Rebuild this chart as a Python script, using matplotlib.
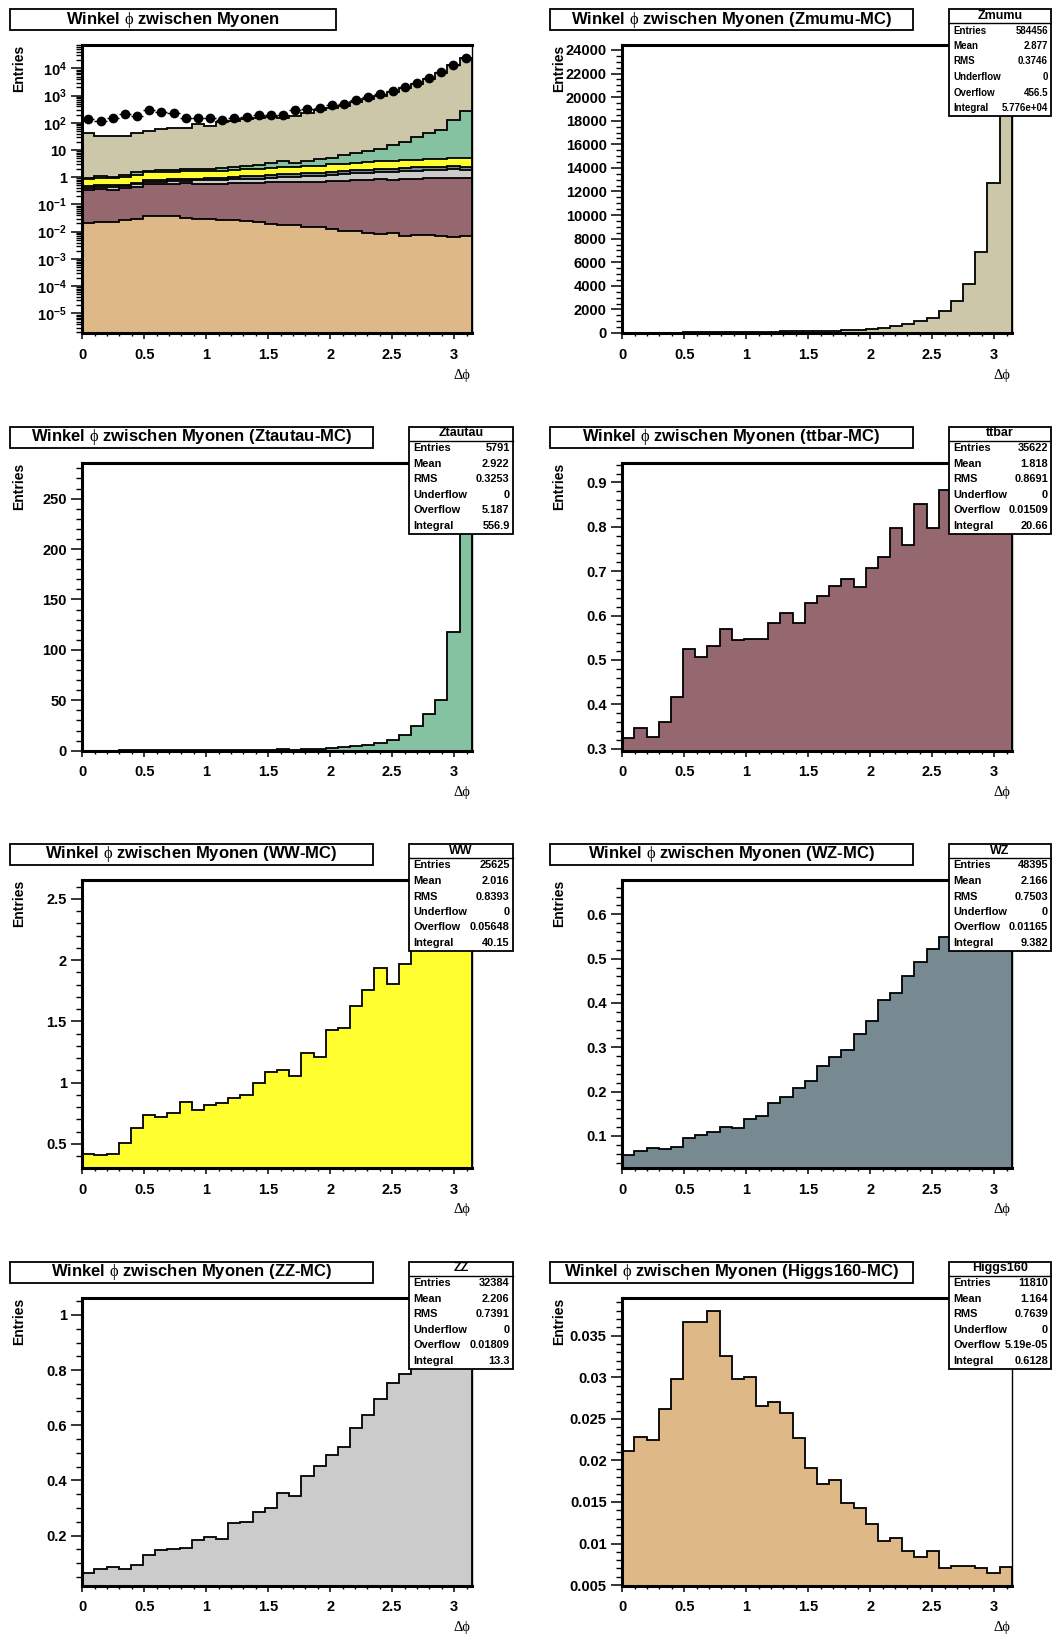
import numpy as np
import matplotlib
matplotlib.use("Agg")
import matplotlib.pyplot as plt
from matplotlib.patches import Rectangle
from matplotlib.lines import Line2D
from matplotlib.ticker import (MultipleLocator, AutoMinorLocator, FuncFormatter,
                               LogLocator, NullFormatter)

plt.rcParams['font.family'] = ['Liberation Sans', 'DejaVu Sans']
plt.rcParams['font.weight'] = 'bold'
plt.rcParams['mathtext.fontset'] = 'custom'
plt.rcParams['mathtext.rm'] = 'Liberation Sans:bold'
plt.rcParams['mathtext.bf'] = 'Liberation Sans:bold'
plt.rcParams['mathtext.sf'] = 'Liberation Serif:weight=normal'

# 32 bins in delta-phi from 0 to pi
NBINS = 32
EDGES = np.linspace(0, np.pi, NBINS + 1)

zmumu = [40, 31, 31, 31, 42, 49, 56, 64, 64, 86, 74, 104, 113, 130, 143, 155,
         150, 180, 220, 280, 340, 420, 590, 750, 980, 1300, 1850, 2720, 4150,
         6860, 12700, 23260]
ztautau = [0.08, 0.15, 0.10, 0.20, 0.25, 0.20, 0.30, 0.22, 0.30, 0.35, 0.28,
           0.40, 0.45, 0.70, 0.80, 1.0, 1.6, 0.9, 1.2, 2.0, 2.3, 3.3, 4.6, 5.3,
           7.2, 10.9, 15.5, 24.7, 36.2, 50.3, 117.8, 272.0]
ttbar = [0.325, 0.347, 0.326, 0.361, 0.417, 0.525, 0.506, 0.532, 0.570, 0.546,
         0.548, 0.548, 0.583, 0.605, 0.584, 0.628, 0.644, 0.667, 0.682, 0.665,
         0.707, 0.733, 0.797, 0.758, 0.851, 0.798, 0.883, 0.89, 0.915, 0.90,
         0.91, 0.905]
ww = [0.421, 0.410, 0.421, 0.511, 0.630, 0.734, 0.723, 0.753, 0.840, 0.775,
      0.815, 0.834, 0.872, 0.902, 0.995, 1.09, 1.105, 1.057, 1.24, 1.207, 1.43,
      1.444, 1.622, 1.753, 1.94, 1.804, 1.967, 2.15, 2.30, 2.40, 2.548, 2.45]
wz = [0.0572, 0.0655, 0.073, 0.0715, 0.0752, 0.0947, 0.1015, 0.109, 0.121,
      0.118, 0.1375, 0.144, 0.174, 0.188, 0.208, 0.224, 0.257, 0.279, 0.294,
      0.329, 0.359, 0.407, 0.422, 0.460, 0.493, 0.521, 0.550, 0.575, 0.60,
      0.62, 0.648, 0.606]
zz = [0.066, 0.078, 0.088, 0.079, 0.095, 0.131, 0.149, 0.152, 0.154, 0.186,
      0.196, 0.187, 0.247, 0.248, 0.284, 0.299, 0.356, 0.342, 0.416, 0.452,
      0.491, 0.522, 0.589, 0.637, 0.694, 0.755, 0.785, 0.84, 0.90, 0.95,
      1.015, 0.917]
higgs160 = [0.0211, 0.0228, 0.0225, 0.0262, 0.0298, 0.0366, 0.0367, 0.0380,
            0.0326, 0.0298, 0.0300, 0.0266, 0.0270, 0.0257, 0.0227, 0.0191,
            0.0172, 0.0177, 0.0149, 0.0143, 0.0124, 0.0103, 0.0107, 0.0091,
            0.0084, 0.0091, 0.0071, 0.0073, 0.0073, 0.0070, 0.0065, 0.0072]
data = [134, 118, 147, 205, 177, 296, 258, 236, 146, 155, 146, 130, 150, 158,
        188, 190, 188, 285, 320, 340, 440, 500, 680, 860, 1120, 1500, 2100,
        3000, 4500, 7300, 13000, 24000]

stat_labels = ["Entries", "Mean", "RMS", "Underflow", "Overflow", "Integral"]
stats = {
    "Zmumu":    ["584456", "2.877", "0.3746", "0", "456.5", "5.776e+04"],
    "Ztautau":  ["5791", "2.922", "0.3253", "0", "5.187", "556.9"],
    "ttbar":    ["35622", "1.818", "0.8691", "0", "0.01509", "20.66"],
    "WW":       ["25625", "2.016", "0.8393", "0", "0.05648", "40.15"],
    "WZ":       ["48395", "2.166", "0.7503", "0", "0.01165", "9.382"],
    "ZZ":       ["32384", "2.206", "0.7391", "0", "0.01809", "13.3"],
    "Higgs160": ["11810", "1.164", "0.7639", "0", "5.19e-05", "0.6128"],
}

colors = {"Zmumu": "#cdc7aa", "Ztautau": "#84c2a2", "ttbar": "#95686f",
          "WW": "#ffff30", "WZ": "#788a91", "ZZ": "#cbcbcb",
          "Higgs160": "#deb887"}
hists = {"Zmumu": zmumu, "Ztautau": ztautau, "ttbar": ttbar, "WW": ww,
         "WZ": wz, "ZZ": zz, "Higgs160": higgs160}

W, H = 1052, 1636
fig = plt.figure(figsize=(W / 100, H / 100), dpi=100)
fig.patch.set_facecolor("white")

def fx(x):
    return x / W

def fy(y):
    return 1 - y / H

PAD_X = [0, 540]
ROW_TOP = [45, 462.7, 880, 1297.7]
FRAME_L, FRAME_W, FRAME_H = 82.3, 389.4, 288
TITLE = r"Winkel $\mathsf{ϕ}$ zwischen Myonen"


def root_range(vals):
    lo, hi = min(vals), max(vals)
    d = hi - lo
    ymin = lo - 0.05 * d
    if ymin < 0:
        ymin = 0
    return ymin, hi + 0.05 * d


def fmt_lin(v, _):
    return f"{round(v, 6):g}"


def fmt_log(v, _):
    k = int(round(np.log10(v)))
    if k == 0:
        return "1"
    if k == 1:
        return "10"
    return r"$\mathbf{10^{%d}}$" % k


def make_axes(col, row):
    x0 = PAD_X[col] + FRAME_L
    top = ROW_TOP[row]
    ax = fig.add_axes([fx(x0), fy(top + FRAME_H), FRAME_W / W, FRAME_H / H])
    for s in ("top", "left", "bottom"):
        ax.spines[s].set_linewidth(2.2)
    ax.spines["right"].set_linewidth(1.0)
    ax.tick_params(axis="y", which="major", direction="out", length=7.7,
                   width=1.1, pad=3.5, labelsize=10.5)
    ax.tick_params(axis="y", which="minor", direction="out", length=4,
                   width=1.0)
    ax.tick_params(axis="x", which="major", direction="out", length=4.5,
                   width=1.1, pad=6, labelsize=10.5)
    ax.tick_params(axis="x", which="minor", direction="out", length=2.5,
                   width=1.0)
    ax.xaxis.set_major_locator(MultipleLocator(0.5))
    ax.xaxis.set_minor_locator(AutoMinorLocator(5))
    ax.xaxis.set_major_formatter(FuncFormatter(fmt_lin))
    ax.set_xlim(0, np.pi)

    # labels outside the frame
    fig.text(fx(PAD_X[col] + 19), fy(top), "Entries", rotation=90,
             ha="center", va="top", fontsize=10)
    fig.text(fx(PAD_X[col] + 462), fy(top + FRAME_H + 42), "Δϕ",
             family=["Liberation Serif", "DejaVu Serif"], fontweight="normal",
             ha="center", va="center", fontsize=10.5)
    return ax


def title_box(col, row, text, width=363):
    x0 = PAD_X[col] + 10
    top = ROW_TOP[row] - 36
    fig.add_artist(Rectangle((fx(x0), fy(top + 21)), width / W, 21 / H,
                             transform=fig.transFigure, facecolor="white",
                             edgecolor="black", lw=1.3, zorder=5))
    fig.text(fx(x0 + width / 2), fy(top + 10.5), text, ha="center",
             va="center", fontsize=12, zorder=6)


def stats_box(col, row, name, size=7.9):
    x0 = PAD_X[col] + 409.3
    x1 = min(x0 + 103.4, W - 1)
    top = ROW_TOP[row] - 36
    h = 107
    fig.add_artist(Rectangle((fx(x0), fy(top + h)), (x1 - x0) / W, h / H,
                             transform=fig.transFigure, facecolor="white",
                             edgecolor="black", lw=1.3, zorder=5))
    fig.add_artist(Line2D([fx(x0), fx(x1)], [fy(top + 14), fy(top + 14)],
                          transform=fig.transFigure, color="black", lw=1.0,
                          zorder=6))
    fig.text(fx((x0 + x1) / 2), fy(top + 6.6), name, ha="center",
             va="center", fontsize=9, zorder=7)
    for i, (lab, val) in enumerate(zip(stat_labels, stats[name])):
        yy = fy(top + 21.5 + 15.5 * i)
        fig.text(fx(x0 + 4), yy, lab, ha="left", va="center", fontsize=size,
                 zorder=7)
        fig.text(fx(x1 - 3), yy, val, ha="right", va="center", fontsize=size,
                 zorder=7)


def draw_hist(ax, vals, color, base):
    ax.stairs(vals, EDGES, baseline=base, fill=True, facecolor=color,
              edgecolor="none")
    ax.stairs(vals, EDGES, baseline=base, color="black", lw=1.3)


# --- stacked overview on log scale ---
ax = make_axes(0, 0)
ax.set_yscale("log")
log_lo, log_hi = 1.9e-6, 7.2e4
order = ["Higgs160", "ttbar", "ZZ", "WZ", "WW", "Ztautau", "Zmumu"]
cum = np.cumsum([hists[n] for n in order], axis=0)
for n, top_vals in reversed(list(zip(order, cum))):
    draw_hist(ax, top_vals, colors[n], log_lo)
centers = 0.5 * (EDGES[:-1] + EDGES[1:])
half = 0.5 * (EDGES[1] - EDGES[0])
d = np.array(data, dtype=float)
ax.errorbar(centers, d, xerr=half, yerr=np.sqrt(d), fmt="o", color="black",
            ms=6, lw=1.0, capsize=0, zorder=5)
ax.set_ylim(log_lo, log_hi)
ax.yaxis.set_major_locator(LogLocator(base=10, numticks=20))
ax.yaxis.set_minor_locator(LogLocator(base=10, subs=np.arange(2, 10),
                                      numticks=20))
ax.yaxis.set_major_formatter(FuncFormatter(fmt_log))
ax.yaxis.set_minor_formatter(NullFormatter())
ax.set_xlim(0, np.pi)
title_box(0, 0, TITLE, width=326)

# --- single-sample panels ---
panels = [
    ("Zmumu", 1, 0, 2000, 4),
    ("Ztautau", 0, 1, 50, 5),
    ("ttbar", 1, 1, 0.1, 5),
    ("WW", 0, 2, 0.5, 5),
    ("WZ", 1, 2, 0.1, 5),
    ("ZZ", 0, 3, 0.2, 4),
    ("Higgs160", 1, 3, 0.005, 5),
]
for name, col, row, step, nminor in panels:
    ax = make_axes(col, row)
    lo, hi = root_range(hists[name])
    draw_hist(ax, hists[name], colors[name], lo)
    ax.set_xlim(0, np.pi)
    ax.set_ylim(lo, hi)
    ax.yaxis.set_major_locator(MultipleLocator(step))
    ax.yaxis.set_minor_locator(AutoMinorLocator(nminor))
    ax.yaxis.set_major_formatter(FuncFormatter(fmt_lin))
    title_box(col, row, f"{TITLE} ({name}-MC)")
    stats_box(col, row, name, size=7.0 if name == "Zmumu" else 7.9)

fig.savefig("out.png", dpi=100)
